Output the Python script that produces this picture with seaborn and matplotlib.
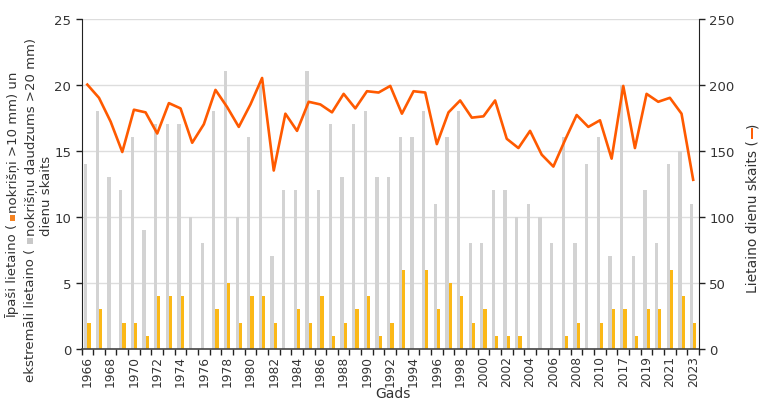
import matplotlib
matplotlib.use("Agg")
import matplotlib.pyplot as plt
import numpy as np
import pandas as pd
import seaborn as sns
from matplotlib.lines import Line2D
from matplotlib.patches import Rectangle

years = [str(y) for y in range(1966, 2011)] + ["2016"] + [str(y) for y in range(2017, 2024)]

extreme_days = [14, 18, 13, 12, 16, 9, 17, 17, 17, 10,
                8, 18, 21, 10, 16, 20, 7, 12, 12, 21,
                12, 17, 13, 17, 18, 13, 13, 16, 16, 18,
                11, 16, 18, 8, 8, 12, 12, 10, 11, 10,
                8, 16, 8, 14, 16,
                7,
                20, 7, 12, 8, 14, 15, 11]

heavy_days = [2, 3, 0, 2, 2, 1, 4, 4, 4, 0,
              0, 3, 5, 2, 4, 4, 2, 0, 3, 2,
              4, 1, 2, 3, 4, 1, 2, 6, 0, 6,
              3, 5, 4, 2, 3, 1, 1, 1, 0, 0,
              0, 1, 2, 0, 2,
              3,
              3, 1, 3, 3, 6, 4, 2]

rainy_days = [200, 190, 172, 149, 181, 179, 163, 186, 182, 156,
              170, 196, 183, 168, 185, 205, 135, 178, 165, 187,
              185, 179, 193, 182, 195, 194, 199, 178, 195, 194,
              155, 179, 188, 175, 176, 188, 159, 152, 165, 147,
              138, 158, 177, 168, 173,
              144,
              199, 152, 193, 187, 190, 178, 128]

GRAY = "#d3d3d3"
GOLD = "#fbb817"
LINE = "#ff5a00"
TEXT = "#333333"

plt.rcParams["font.family"] = ["DejaVu Sans"]

bars = pd.DataFrame({
    "year": years * 2,
    "days": extreme_days + heavy_days,
    "series": ["extreme"] * len(years) + ["heavy"] * len(years),
})

fig = plt.figure(figsize=(7.59, 4.02), dpi=100)
W, H = 759, 402
ax = fig.add_axes([81.5 / W, 1 - 350 / H, (699 - 81.5) / W, (350 - 19.5) / H])

sns.barplot(data=bars, x="year", y="days", hue="series", order=years,
            hue_order=["extreme", "heavy"], palette=[GRAY, GOLD],
            width=0.56, ax=ax, legend=False, saturation=1)

ax2 = ax.twinx()
sns.lineplot(x=np.arange(len(years)), y=rainy_days, ax=ax2, color=LINE, linewidth=1.9)

ax.set_xlim(-0.5, len(years) - 0.5)
ax.set_ylim(0, 25)
ax2.set_ylim(0, 250)
ax.set_yticks(range(0, 26, 5))
ax2.set_yticks(range(0, 251, 50))
ax.set_xticks(range(0, len(years), 2))
ax.set_xticklabels(years[::2], rotation=90)
ax.set_xticks(np.arange(-0.5, len(years), 1), minor=True)
ax.tick_params(axis="x", which="major", length=0, pad=4, labelsize=8.8, colors=TEXT)
ax.tick_params(axis="x", which="minor", length=4, width=1, color="#222222")
ax.tick_params(axis="y", length=4, width=1, labelsize=9.5, colors=TEXT, color="#222222")
ax2.tick_params(axis="y", length=4, width=1, labelsize=9.5, colors=TEXT, color="#222222")

ax.yaxis.grid(True, color="#dddddd", linewidth=1)
ax.set_axisbelow(True)
ax.set_xlabel("")
ax.set_ylabel("")
ax2.set_ylabel("")
ax2.set_xlabel("")

for s in ["top", "right"]:
    ax.spines[s].set_visible(False)
for s in ["top", "left", "bottom"]:
    ax2.spines[s].set_visible(False)
ax.spines["left"].set_color("#222222")
ax.spines["bottom"].set_color("#444444")
ax.spines["bottom"].set_linewidth(1.2)
ax2.spines["right"].set_color("#222222")

fig.canvas.draw()
renderer = fig.canvas.get_renderer()


def rotated_pieces(pieces, x_base, yc, size=9.5, gap=2.5):
    # pieces read bottom-to-top; ("t", text) / ("box", colour) / ("dash", colour)
    texts, lengths = [], []
    for p in pieces:
        if p[0] == "t":
            t = fig.text(x_base / W, 0, p[1], rotation=90, rotation_mode="anchor",
                         ha="left", va="baseline", fontsize=size, color=TEXT)
            texts.append(t)
            lengths.append(t.get_window_extent(renderer).height)
        else:
            texts.append(None)
            lengths.append(6.0 if p[0] == "box" else 9.0)
    total = sum(lengths) + gap * (len(pieces) - 1)
    y = (H - yc) - total / 2
    for p, t, n in zip(pieces, texts, lengths):
        if p[0] == "t":
            t.set_y(y / H)
        elif p[0] == "box":
            fig.add_artist(Rectangle(((x_base - 7) / W, y / H), 5.5 / W, n / H,
                                     transform=fig.transFigure, color=p[1], lw=0))
        else:
            fig.add_artist(Line2D([(x_base - 4.5) / W] * 2, [y / H, (y + n) / H],
                                  transform=fig.transFigure, color=p[1], lw=1.4))
        y += n + gap


rotated_pieces([("t", "Īpaši lietaino ("), ("box", "#f58220"), ("t", "nokrišņi >10 mm) un")],
               16.5, 195)
rotated_pieces([("t", "ekstremāli lietaino ("), ("box", "#c8c8c8"),
                ("t", "nokrišņu daudzums >20 mm)")], 34, 210, gap=3)
rotated_pieces([("t", "dienu skaits")], 50.5, 196)
rotated_pieces([("t", "Lietaino dienu skaits ("), ("dash", LINE), ("t", ")")],
               756, 208, size=10, gap=1.5)

fig.text(393 / W, 1 - 387 / H, "Gads", ha="center", va="top", fontsize=10, color=TEXT)

fig.savefig("out.png", dpi=100)
